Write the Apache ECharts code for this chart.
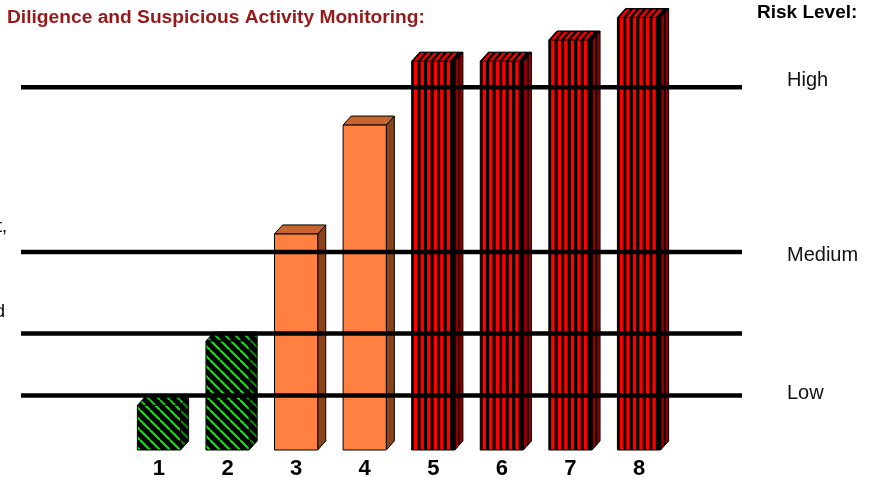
<!DOCTYPE html>
<html><head><meta charset="utf-8">
<script src="https://cdn.jsdelivr.net/npm/echarts@6/dist/echarts.min.js"></script>
<style>html,body{margin:0;padding:0;background:#fff}#c{width:884px;height:482px}</style>
</head><body><div id="c"></div>
<script>
// ---- data ----
var categories = ['1', '2', '3', '4', '5', '6', '7', '8'];
var riskScores = [9.9, 24.2, 48, 72.2, 86.4, 86.4, 91.1, 96.1];
var riskClass = ['low', 'low', 'medium', 'medium', 'high', 'high', 'high', 'high'];
var levelValues = [80.6, 44, 25.9, 12.1];
var levelNames = ['High', 'Medium', 'Low'];
var titleText = 'Diligence and Suspicious Activity Monitoring:';
var legendTitle = 'Risk Level:';

var FONT = '"Liberation Sans", Arial, sans-serif';

function makeTile(w, h, draw) {
  var c = document.createElement('canvas');
  c.width = w; c.height = h;
  draw(c.getContext('2d'));
  return { image: c, repeat: 'repeat' };
}
function hatch(color) {
  return makeTile(10, 10, function (g) {
    g.fillStyle = '#000'; g.fillRect(0, 0, 10, 10);
    g.strokeStyle = color; g.lineWidth = 2.1;
    [-10, 0, 10].forEach(function (o) {
      g.beginPath(); g.moveTo(o, 0); g.lineTo(o + 10, 10); g.stroke();
    });
  });
}
var styles = {
  low: { front: hatch('#00f000'), top: hatch('#00d400'), side: hatch('#008c00') },
  medium: { front: '#ff8040', top: '#c8642d', side: '#8a4219' },
  high: { front: '#000', top: '#000', side: '#8b0000' }
};
var RED = '#ff0000', RED_TOP = '#f00000';

function renderItem(params, api) {
  var i = api.value(0), v = api.value(1);
  var b = api.coord([i, 0]), t = api.coord([i, v]);
  var band = api.size([1, 0])[0];
  var w = band * 0.63, dx = band * 0.117, dy = band * 0.132;
  var x0 = b[0] - w / 2, x1 = b[0] + w / 2, yb = b[1], yt = t[1];
  var cls = riskClass[params.dataIndex];
  var s = styles[cls];
  var ch = [
    { type: 'polygon', shape: { points: [[x1, yb], [x1 + dx, yb - dy], [x1 + dx, yt - dy], [x1, yt]] },
      style: { fill: s.side, stroke: '#000', lineWidth: 1 } },
    { type: 'polygon', shape: { points: [[x0, yt], [x0 + dx, yt - dy], [x1 + dx, yt - dy], [x1, yt]] },
      style: { fill: s.top, stroke: '#000', lineWidth: 1 } },
    { type: 'rect', shape: { x: x0, y: yt, width: w, height: yb - yt },
      style: { fill: s.front, stroke: '#000', lineWidth: 1 } }
  ];
  if (cls === 'high') {
    var n = 6, p = (w - 2) / 6.3, sw = p * 0.52;
    for (var k = 0; k < n; k++) {
      var sx = x0 + 2.3 + k * p;
      ch.push({ type: 'rect', shape: { x: sx, y: yt + 0.5, width: sw, height: yb - yt - 1 }, style: { fill: RED } });
      ch.push({ type: 'polygon', shape: { points: [[sx, yt - 0.5], [sx + dx * 0.85, yt - dy * 0.85 - 0.5], [sx + dx * 0.85 + sw, yt - dy * 0.85 - 0.5], [sx + sw, yt - 0.5]] },
        style: { fill: RED_TOP } });
    }
    ch.push({ type: 'line', shape: { x1: x1 + dx * 0.55, y1: yb - dy * 0.55, x2: x1 + dx * 0.55, y2: yt - dy * 0.55 },
      style: { stroke: '#000', lineWidth: 1.6 } });
  }
  return { type: 'group', children: ch };
}

var chart = echarts.init(document.getElementById('c'), null, { renderer: 'canvas' });

var series = [{
  type: 'custom', xAxisIndex: 0, yAxisIndex: 0, z: 2,
  renderItem: renderItem,
  encode: { x: 0, y: 1 },
  data: riskScores.map(function (v, i) { return [i, v]; })
}];
levelValues.forEach(function (v) {
  series.push({
    type: 'line', xAxisIndex: 1, yAxisIndex: 1, z: 10,
    symbol: 'none', silent: true, animation: false,
    lineStyle: { color: '#000', width: 4.5 },
    data: [[0, v], [1, v]]
  });
});

chart.setOption({
  animation: false,
  backgroundColor: '#fff',
  title: {
    text: titleText, left: 2, top: 3,
    textStyle: { fontFamily: FONT, fontSize: 19.2, fontWeight: 'bold', color: '#961818' }
  },
  grid: [
    { left: 124.7, right: 210.7, top: 0, bottom: 32 },
    { left: 21, right: 142, top: 0, bottom: 32 }
  ],
  xAxis: [
    { type: 'category', gridIndex: 0, data: categories,
      axisLine: { show: false }, axisTick: { show: false },
      axisLabel: { fontFamily: FONT, fontSize: 22, fontWeight: 'bold', color: '#000', margin: 8 } },
    { type: 'value', gridIndex: 1, min: 0, max: 1, show: false }
  ],
  yAxis: [
    { type: 'value', gridIndex: 0, min: 0, max: 100, show: false },
    { type: 'value', gridIndex: 1, min: 0, max: 100, show: false }
  ],
  graphic: [
    { type: 'text', left: 757, top: 3, style: { text: legendTitle, font: 'bold 19px ' + FONT, fill: '#000' } },
    { type: 'text', x: 787, y: 80, style: { text: levelNames[0], font: '20px ' + FONT, fill: '#111', verticalAlign: 'middle' } },
    { type: 'text', x: 787, y: 255, style: { text: levelNames[1], font: '20px ' + FONT, fill: '#111', verticalAlign: 'middle' } },
    { type: 'text', x: 787, y: 393, style: { text: levelNames[2], font: '20px ' + FONT, fill: '#111', verticalAlign: 'middle' } },
    { type: 'text', x: 7, y: 227, style: { text: 't,', font: '18px ' + FONT, fill: '#000', align: 'right', verticalAlign: 'middle' } },
    { type: 'text', x: 5, y: 312, style: { text: 'd', font: '18px ' + FONT, fill: '#000', align: 'right', verticalAlign: 'middle' } }
  ],
  series: series
});
</script>
</body></html>
